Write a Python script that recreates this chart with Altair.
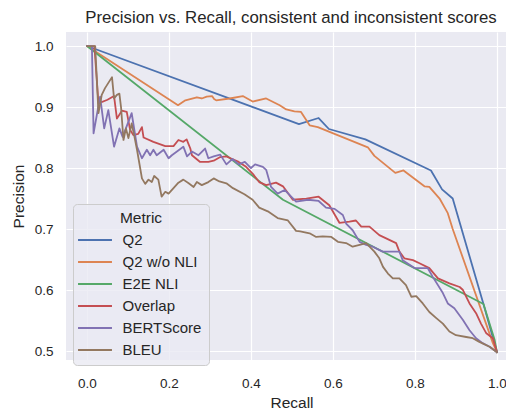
import altair as alt
import pandas as pd

metrics = ["Q2", "Q2 w/o NLI", "E2E NLI", "Overlap", "BERTScore", "BLEU"]
colors = ["#4c72b0", "#dd8452", "#55a868", "#c44e52", "#8172b3", "#937860"]

q2_recall = [0.0, 0.517, 0.565, 0.59, 0.679, 0.839, 0.866, 0.892, 0.967, 1.0]
q2_precision = [1.0, 0.872, 0.882, 0.864, 0.847, 0.796, 0.765, 0.75, 0.577, 0.498]

q2nonli_recall = [0.0, 0.222, 0.24, 0.268, 0.28, 0.292, 0.305, 0.31, 0.315, 0.348, 0.38, 0.404,
                  0.437, 0.47, 0.486, 0.506, 0.522, 0.543, 0.563, 0.685, 0.701, 0.752, 0.772,
                  0.823, 0.835, 0.86, 0.88, 0.892, 0.99, 1.0]
q2nonli_precision = [1.0, 0.903, 0.911, 0.916, 0.914, 0.917, 0.918, 0.913, 0.911, 0.914, 0.918, 0.909,
                     0.914, 0.903, 0.896, 0.893, 0.892, 0.870, 0.867, 0.834, 0.82, 0.792, 0.796,
                     0.770, 0.769, 0.75, 0.726, 0.70, 0.513, 0.498]

e2e_recall = [0.0, 0.478, 0.967, 0.994, 1.0]
e2e_precision = [1.0, 0.748, 0.577, 0.519, 0.498]

overlap_recall = [0.0, 0.018, 0.028, 0.05, 0.066, 0.073, 0.085, 0.097, 0.105, 0.113, 0.125, 0.134,
                  0.138, 0.162, 0.191, 0.211, 0.223, 0.235, 0.243, 0.252, 0.256, 0.276, 0.296,
                  0.309, 0.325, 0.34, 0.35, 0.37, 0.388, 0.405, 0.42, 0.437, 0.461, 0.478, 0.502,
                  0.535, 0.565, 0.591, 0.616, 0.64, 0.656, 0.669, 0.689, 0.713, 0.754, 0.762,
                  0.774, 0.795, 0.811, 0.835, 0.856, 0.884, 0.909, 0.917, 0.933, 0.949, 0.961,
                  0.974, 0.99, 1.0]
overlap_precision = [1.0, 1.0, 0.906, 0.912, 0.918, 0.881, 0.894, 0.892, 0.863, 0.854, 0.856, 0.867,
                     0.850, 0.843, 0.836, 0.836, 0.846, 0.843, 0.847, 0.832, 0.821, 0.810, 0.810,
                     0.812, 0.818, 0.819, 0.816, 0.81, 0.802, 0.79, 0.777, 0.772, 0.776, 0.77, 0.748,
                     0.75, 0.753, 0.739, 0.71, 0.712, 0.714, 0.704, 0.704, 0.69, 0.677, 0.663,
                     0.652, 0.649, 0.644, 0.636, 0.619, 0.611, 0.605, 0.6, 0.578, 0.562, 0.545,
                     0.529, 0.521, 0.498]

bert_recall = [0.0, 0.012, 0.016, 0.032, 0.042, 0.052, 0.066, 0.079, 0.087, 0.109, 0.113, 0.122,
               0.134, 0.146, 0.154, 0.162, 0.17, 0.187, 0.199, 0.207, 0.235, 0.244, 0.256, 0.272,
               0.288, 0.296, 0.309, 0.325, 0.34, 0.355, 0.37, 0.385, 0.40, 0.41, 0.429, 0.437,
               0.449, 0.465, 0.482, 0.51, 0.539, 0.565, 0.583, 0.604, 0.624, 0.632, 0.648, 0.665,
               0.681, 0.697, 0.721, 0.742, 0.762, 0.77, 0.799, 0.831, 0.843, 0.868, 0.88, 0.896,
               0.917, 0.933, 0.949, 0.965, 0.982, 1.0]
bert_precision = [1.0, 1.0, 0.857, 0.917, 0.865, 0.895, 0.835, 0.865, 0.851, 0.89, 0.873, 0.835,
                  0.816, 0.83, 0.821, 0.83, 0.821, 0.83, 0.816, 0.821, 0.835, 0.819, 0.827, 0.821,
                  0.832, 0.816, 0.819, 0.822, 0.806, 0.815, 0.806, 0.81, 0.80, 0.806, 0.802, 0.797,
                  0.769, 0.758, 0.764, 0.745, 0.748, 0.746, 0.735, 0.733, 0.723, 0.709, 0.698, 0.679,
                  0.674, 0.671, 0.663, 0.663, 0.663, 0.649, 0.636, 0.636, 0.622, 0.595, 0.578, 0.57,
                  0.551, 0.534, 0.521, 0.513, 0.507, 0.498]

bleu_recall = [0.0, 0.02, 0.028, 0.036, 0.044, 0.061, 0.066, 0.073, 0.079, 0.083, 0.089, 0.095,
               0.101, 0.109, 0.115, 0.122, 0.134, 0.142, 0.15, 0.158, 0.164, 0.174, 0.182, 0.191,
               0.199, 0.211, 0.223, 0.235, 0.248, 0.26, 0.268, 0.28, 0.296, 0.309, 0.323, 0.34,
               0.356, 0.384, 0.404, 0.42, 0.441, 0.465, 0.49, 0.51, 0.52, 0.543, 0.559, 0.575,
               0.596, 0.612, 0.632, 0.648, 0.665, 0.681, 0.701, 0.713, 0.722, 0.734, 0.746, 0.762,
               0.778, 0.791, 0.803, 0.819, 0.835, 0.852, 0.868, 0.884, 0.9, 0.925, 0.941, 0.957,
               0.982, 1.0]
bleu_precision = [1.0, 1.0, 0.89, 0.92, 0.931, 0.949, 0.914, 0.92, 0.922, 0.9, 0.846, 0.865,
                  0.849, 0.873, 0.854, 0.83, 0.783, 0.774, 0.781, 0.777, 0.787, 0.781, 0.753, 0.761,
                  0.758, 0.767, 0.776, 0.781, 0.775, 0.769, 0.777, 0.772, 0.777, 0.783, 0.778, 0.775,
                  0.767, 0.757, 0.748, 0.735, 0.729, 0.718, 0.714, 0.697, 0.696, 0.693, 0.687, 0.688,
                  0.687, 0.679, 0.677, 0.671, 0.674, 0.677, 0.663, 0.652, 0.638, 0.627, 0.619, 0.619,
                  0.608, 0.589, 0.59, 0.578, 0.564, 0.554, 0.545, 0.532, 0.526, 0.523, 0.521, 0.515,
                  0.507, 0.498]

x_ticks = [0.0, 0.2, 0.4, 0.6, 0.8, 1.0]
y_ticks = [0.5, 0.6, 0.7, 0.8, 0.9, 1.0]

series = [
    (metrics[0], q2_recall, q2_precision),
    (metrics[1], q2nonli_recall, q2nonli_precision),
    (metrics[2], e2e_recall, e2e_precision),
    (metrics[3], overlap_recall, overlap_precision),
    (metrics[4], bert_recall, bert_precision),
    (metrics[5], bleu_recall, bleu_precision),
]
rows = []
for name, rx, py in series:
    for i, (a, b) in enumerate(zip(rx, py)):
        rows.append({"Metric": name, "Recall": a, "Precision": b, "i": i})
df = pd.DataFrame(rows)

FONT = "Liberation Sans"
TXT = "#262626"

chart = alt.Chart(df).mark_line(strokeWidth=1.8, strokeJoin="round", strokeCap="round", clip=True).encode(
    x=alt.X("Recall:Q",
            scale=alt.Scale(domain=[-0.0512, 1.022], nice=False, zero=False),
            axis=alt.Axis(values=x_ticks, format=".1f", title="Recall", labelPadding=16,
                          titlePadding=6, titleX=225.5)),
    y=alt.Y("Precision:Q",
            scale=alt.Scale(domain=[0.4853, 1.023], nice=False, zero=False),
            axis=alt.Axis(values=y_ticks, format=".1f", title="Precision", labelPadding=13,
                          titlePadding=8)),
    color=alt.Color("Metric:N",
                    scale=alt.Scale(domain=metrics, range=colors),
                    legend=alt.Legend(title="Metric", orient="none", legendX=7, legendY=172,
                                      direction="vertical", titleAnchor="middle",
                                      titleFontSize=15.5, titleFontWeight="normal", titleColor=TXT,
                                      titleFont=FONT, titlePadding=6,
                                      labelFont=FONT, labelFontSize=15, labelColor=TXT,
                                      symbolType="M-3,0H3", symbolSize=128, symbolStrokeWidth=1.8,
                                      symbolOffset=7.5, labelOffset=20, rowPadding=6, padding=7,
                                      fillColor="rgba(234,234,242,0.8)", strokeColor="#cccccc",
                                      cornerRadius=4)),
    order=alt.Order("i:Q"),
).properties(
    width=440,
    height=328,
    background="#ffffff",
    title=alt.TitleParams("Precision vs. Recall, consistent and inconsistent scores",
                          font=FONT, fontSize=16.8, fontWeight="normal", color=TXT,
                          anchor="middle", dx=5, offset=5),
    autosize=alt.AutoSizeParams(type="none"),
    padding={"left": 58, "top": 24, "right": 0, "bottom": 52},
).configure_view(
    fill="#eaeaf2", stroke=None
).configure_axis(
    domain=False, ticks=False, tickSize=0, grid=True, gridColor="#ffffff", gridWidth=1.2,
    labelFont=FONT, labelFontSize=13.5, labelColor=TXT,
    titleFont=FONT, titleFontSize=15.5, titleFontWeight="normal", titleColor=TXT,
)

chart.save("out.html", embed_options={"renderer": "svg", "actions": False})
